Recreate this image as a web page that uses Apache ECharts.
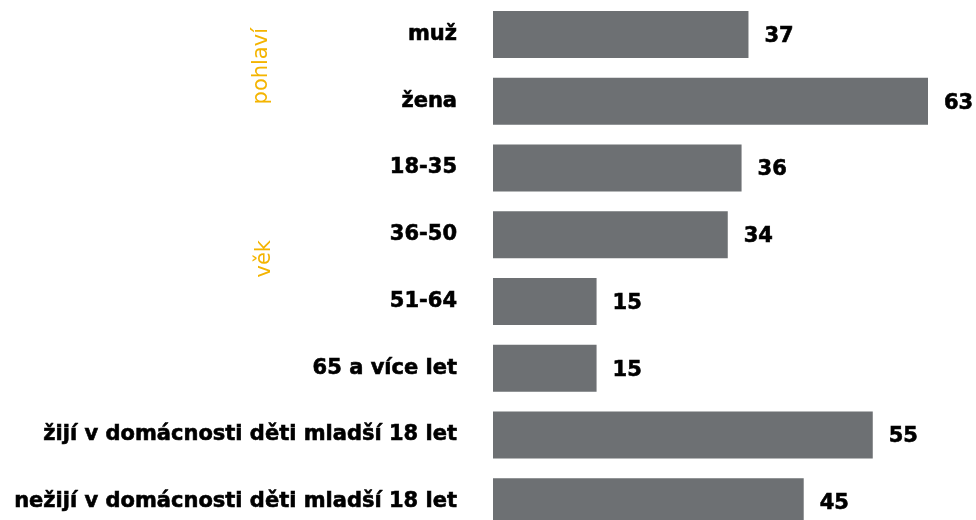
<!DOCTYPE html>
<html>
<head>
    <meta charset="utf-8">
    <title>pohlaví a věk</title>
    <script src="https://cdn.jsdelivr.net/npm/echarts@6/dist/echarts.min.js"></script>
    <style>
        html, body { margin: 0; padding: 0; background: #fff; }
        #chart { width: 976px; height: 520px; }
    </style>
</head>
<body>
    <div id="chart"></div>
    <script type="text/javascript">
        // kategorie a hodnoty
        var categories = ['muž', 'žena', '18-35', '36-50', '51-64', '65 a více let',
            'žijí v domácnosti děti mladší 18 let', 'nežijí v domácnosti děti mladší 18 let'];
        var values = [37, 63, 36, 34, 15, 15, 55, 45];
        var groupLabels = ['pohlaví', 'věk'];

        var myChart = echarts.init(document.getElementById('chart'));

        var option = {
            animation: false,
            backgroundColor: '#fff',
            grid: {
                left: 493,
                top: 1,
                width: 435,
                height: 534,
                outerBoundsMode: 'none'
            },
            xAxis: {
                type: 'value',
                min: 0,
                max: 63,
                show: false
            },
            yAxis: {
                type: 'category',
                inverse: true,
                data: categories,
                axisLine: { show: false },
                axisTick: { show: false },
                axisLabel: {
                    margin: 36,
                    padding: [3, 0, 0, 0],
                    color: '#000',
                    fontFamily: 'DejaVu Sans',
                    fontWeight: 'bold',
                    fontSize: 21,
                    textBorderColor: '#000',
                    textBorderWidth: 0.6
                }
            },
            graphic: [
                {
                    type: 'text',
                    left: 251,
                    top: 28,
                    rotation: Math.PI / 2,
                    style: {
                        text: groupLabels[0],
                        fill: '#f4b400',
                        font: '21px "DejaVu Sans"'
                    }
                },
                {
                    type: 'text',
                    left: 254,
                    top: 240,
                    rotation: Math.PI / 2,
                    style: {
                        text: groupLabels[1],
                        fill: '#f4b400',
                        font: '21px "DejaVu Sans"'
                    }
                }
            ],
            series: [
                {
                    type: 'bar',
                    data: values,
                    barWidth: 47,
                    itemStyle: { color: '#6d7073' },
                    label: {
                        show: true,
                        position: 'right',
                        distance: 16,
                        offset: [0, 2],
                        color: '#000',
                        fontFamily: 'DejaVu Sans',
                        fontWeight: 'bold',
                        fontSize: 21,
                        textBorderColor: '#000',
                        textBorderWidth: 0.6
                    }
                }
            ]
        };

        myChart.setOption(option);
    </script>
</body>
</html>
